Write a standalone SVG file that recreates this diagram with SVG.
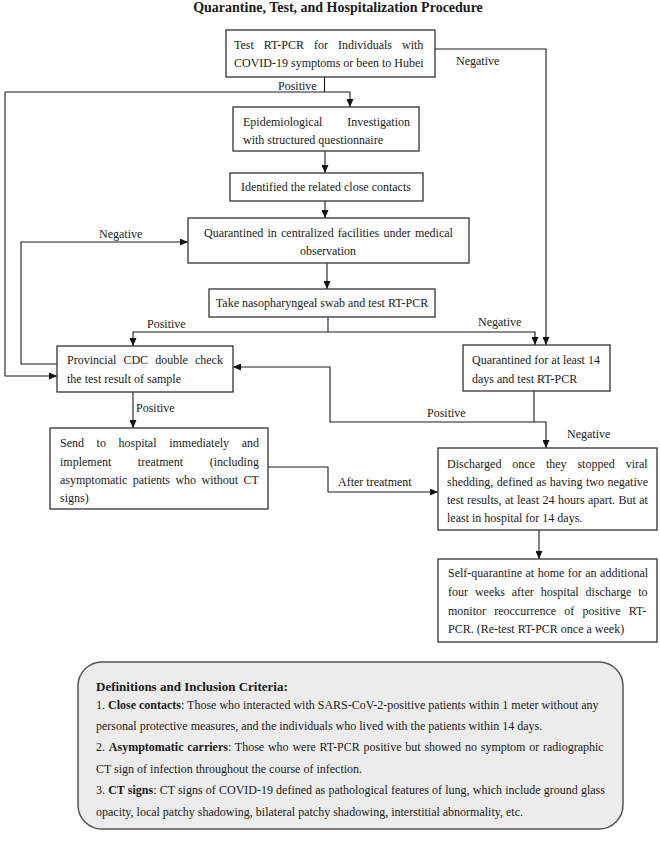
<svg xmlns="http://www.w3.org/2000/svg" width="660" height="848" viewBox="0 0 660 848">
<defs>
<marker id="arr" viewBox="0 0 8 7" refX="8" refY="3.5" markerWidth="8" markerHeight="7" markerUnits="userSpaceOnUse" orient="auto">
<path d="M0,0 L8,3.5 L0,7 z" fill="#111"/>
</marker>
<style>
text{font-family:"Liberation Serif","Times New Roman",serif;fill:#1a1a1a;font-size:12px}
.title{font-size:14px;font-weight:bold}
.box{fill:#fff;stroke:#333;stroke-width:1.3}
.c{fill:none;stroke:#1a1a1a;stroke-width:1.1}
.ca{fill:none;stroke:#1a1a1a;stroke-width:1.1;marker-end:url(#arr)}
.lbl{font-size:12px}
.mid{text-anchor:middle}
.defbox{fill:#ececec;stroke:#555;stroke-width:1.5}
.dt{font-size:13px;font-weight:bold}
.b{font-weight:bold}
</style>
</defs>
<rect width="660" height="848" fill="#fff"/>
<text class="title mid" x="338" y="12">Quarantine, Test, and Hospitalization Procedure</text>

<g id="connectors">
<path class="c" d="M324.5,77 V92"/>
<path class="ca" d="M5,92 H350 V107"/>
<path class="ca" d="M5,92 V376 H57"/>
<path class="ca" d="M435,49 H546 V345"/>
<path class="ca" d="M325,151 V173"/>
<path class="ca" d="M325,201 V218"/>
<path class="ca" d="M327,263 V289"/>
<path class="c" d="M328,317 V332"/>
<path class="ca" d="M328,332 H133 V346"/>
<path class="ca" d="M328,332 H535 V345"/>
<path class="ca" d="M57,364 H21 V242 H188"/>
<path class="ca" d="M133,392 V428"/>
<path class="c" d="M534,391 V422" stroke="#555"/>
<path class="ca" d="M534,422 H546 V448"/>
<path class="ca" d="M534,422 H330 V367 H233"/>
<path class="ca" d="M268,467 H328 V492 H438"/>
<path class="ca" d="M539,530 V559"/>
<text class="lbl" x="456" y="65">Negative</text>
<text class="lbl" x="278" y="90">Positive</text>
<text class="lbl" x="99" y="238">Negative</text>
<text class="lbl" x="147" y="328">Positive</text>
<text class="lbl" x="478" y="326">Negative</text>
<text class="lbl" x="136" y="412">Positive</text>
<text class="lbl" x="427" y="417">Positive</text>
<text class="lbl" x="567" y="438">Negative</text>
<text class="lbl" x="338" y="486">After treatment</text>
</g>

<g id="n-test">
<rect class="box" x="226" y="30" width="209" height="47"/>
<text x="234" y="49" style="word-spacing:7px">Test RT-PCR for Individuals with</text>
<text x="234" y="67">COVID-19 symptoms or been to Hubei</text>
</g>

<g id="n-epi">
<rect class="box" x="233" y="107" width="186" height="44"/>
<text x="243" y="126" style="word-spacing:22px">Epidemiological Investigation</text>
<text x="243" y="144">with structured questionnaire</text>
</g>

<g id="n-identified">
<rect class="box" x="230" y="173" width="193" height="28"/>
<text class="mid" x="326" y="191">Identified the related close contacts</text>
</g>

<g id="n-central">
<rect class="box" x="188" y="218" width="281" height="45"/>
<text x="204" y="237" style="word-spacing:1.2px">Quarantined in centralized facilities under medical</text>
<text class="mid" x="328" y="255">observation</text>
</g>

<g id="n-swab">
<rect class="box" x="209" y="289" width="226" height="28"/>
<text class="mid" x="322" y="307">Take nasopharyngeal swab and test RT-PCR</text>
</g>

<g id="n-cdc">
<rect class="box" x="57" y="346" width="176" height="46"/>
<text x="67" y="364" style="word-spacing:4.1px">Provincial CDC double check</text>
<text x="67" y="383">the test result of sample</text>
</g>

<g id="n-quar14">
<rect class="box" x="463" y="345" width="147" height="46"/>
<text x="472" y="364">Quarantined for at least 14</text>
<text x="472" y="383">days and test RT-PCR</text>
</g>

<g id="n-hospital">
<rect class="box" x="50" y="428" width="218" height="81"/>
<text x="60" y="447" style="word-spacing:9.6px">Send to hospital immediately and</text>
<text x="60" y="466" style="word-spacing:23.5px">implement treatment (including</text>
<text x="60" y="484" style="word-spacing:2.4px">asymptomatic patients who without CT</text>
<text x="60" y="502">signs)</text>
</g>

<g id="n-discharged">
<rect class="box" x="438" y="448" width="219" height="82"/>
<text x="447" y="468" style="word-spacing:7.9px">Discharged once they stopped viral</text>
<text x="447" y="486" style="word-spacing:0.5px">shedding, defined as having two negative</text>
<text x="447" y="504" style="word-spacing:0.45px">test results, at least 24 hours apart. But at</text>
<text x="447" y="522">least in hospital for 14 days.</text>
</g>

<g id="n-self">
<rect class="box" x="438" y="559" width="219" height="83"/>
<text x="448" y="577" style="word-spacing:0.5px">Self-quarantine at home for an additional</text>
<text x="448" y="596" style="word-spacing:3.9px">four weeks after hospital discharge to</text>
<text x="448" y="615" style="word-spacing:5.2px">monitor reoccurrence of positive RT-</text>
<text x="448" y="633">PCR. (Re-test RT-PCR once a week)</text>
</g>

<g id="definitions">
<rect class="defbox" x="78" y="662" width="545" height="167" rx="24" ry="24"/>
<text class="dt" x="96" y="691">Definitions and Inclusion Criteria:</text>
<text x="96" y="709">1. <tspan class="b">Close contacts</tspan>: Those who interacted with SARS-CoV-2-positive patients within 1 meter without any</text>
<text x="96" y="730">personal protective measures, and the individuals who lived with the patients within 14 days.</text>
<text x="96" y="751" style="word-spacing:0.8px">2. <tspan class="b">Asymptomatic carriers</tspan>: Those who were RT-PCR positive but showed no symptom or radiographic</text>
<text x="96" y="773">CT sign of infection throughout the course of infection.</text>
<text x="96" y="794" style="word-spacing:0.17px">3. <tspan class="b">CT signs</tspan>: CT signs of COVID-19 defined as pathological features of lung, which include ground glass</text>
<text x="96" y="816">opacity, local patchy shadowing, bilateral patchy shadowing, interstitial abnormality, etc.</text>
</g>
</svg>
